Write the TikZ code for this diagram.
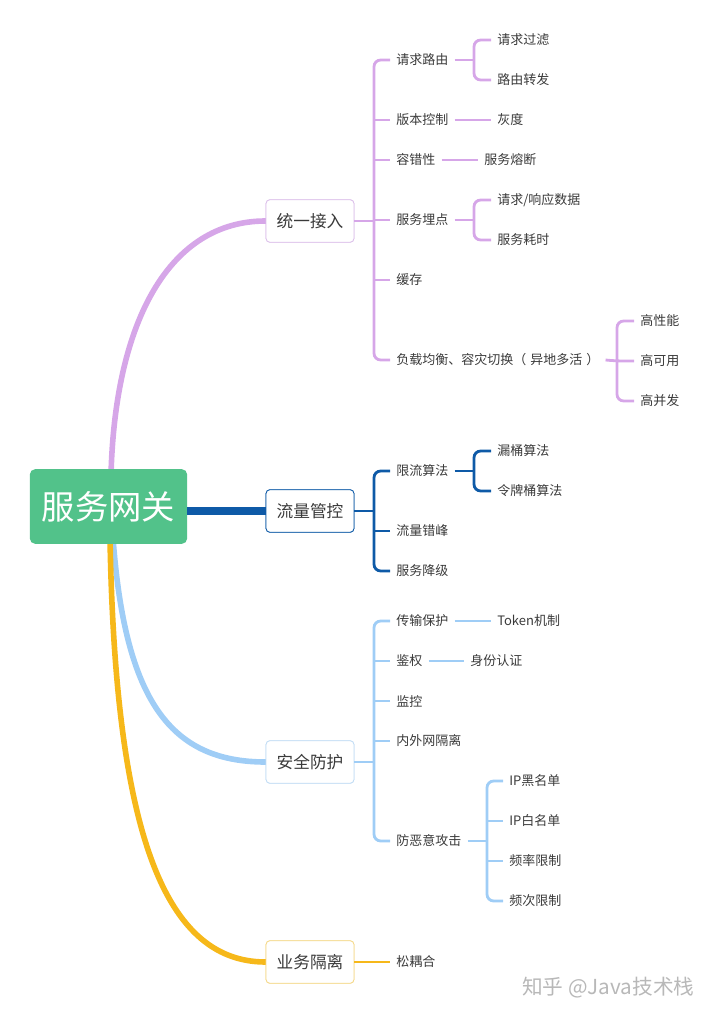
\documentclass[tikz,border=0pt]{standalone}
\usepackage{fontspec}
\setmainfont{Noto Sans CJK SC}
\definecolor{rootg}{HTML}{52C28A}
\definecolor{cpur}{HTML}{D6A6E8}
\definecolor{cpurb}{HTML}{DCC0EA}
\definecolor{cdb}{HTML}{0E5AA7}
\definecolor{clb}{HTML}{9FCDF6}
\definecolor{clbb}{HTML}{C2DDF5}
\definecolor{cor}{HTML}{F6B81A}
\definecolor{corb}{HTML}{F5D98A}
\definecolor{txt}{HTML}{3A3A3A}
\tikzset{
  leaf/.style={anchor=west, inner xsep=4.5pt, inner ysep=2pt, text=txt, font=\fontsize{9.75}{11}\selectfont},
  mainbox/.style={draw=#1, rounded corners=3pt, fill=white, line width=0.6pt, minimum width=66pt, minimum height=32pt, text=txt, font=\fontsize{12.5}{14}\selectfont},
  br/.style={draw=#1, line width=2.1pt, rounded corners=5pt},
  trunk/.style={draw=#1, line width=4.2pt, line cap=round},
}
\begin{document}
\begin{tikzpicture}[x=0.75pt,y=-0.75pt]
\useasboundingbox (0,0) rectangle (720,1019);
% trunk start points
\coordinate (rt1) at (111,475);
\coordinate (rt3) at (113,538);
\coordinate (rt4) at (110,538);
% level-1 boxes (placed first so trunks can reach them)
\node[mainbox=cpurb] (m1) at (310,221) {统一接入};
\node[mainbox=cdb] (m2) at (310,511) {流量管控};
\node[mainbox=clbb] (m3) at (310,762) {安全防护};
\node[mainbox=corb] (m4) at (310,962) {业务隔离};
\path[trunk=cpur] (rt1) .. controls (115,320) and (170,221) .. (m1.west);
\path[trunk=clb] (rt3) .. controls (125,700) and (170,762) .. (m3.west);
\path[trunk=cor] (rt4) .. controls (115,820) and (160,962) .. (m4.west);
\node[fill=rootg, rounded corners=4pt, minimum width=118pt, minimum height=56pt, text=white, font=\fontsize{25}{28}\selectfont] (root) at (108.5,506.5) {服务网关};
\path[draw=cdb, line width=6pt] (root.east |- m2.west) -- (m2.west);
% redraw boxes on top of trunks
\node[mainbox=cpurb] at (m1) {统一接入};
\node[mainbox=cdb] at (m2) {流量管控};
\node[mainbox=clbb] at (m3) {安全防护};
\node[mainbox=corb] at (m4) {业务隔离};

% ===== 统一接入 =====
\node[leaf] (a1) at (390,60) {请求路由};
\node[leaf] (a2) at (390,120) {版本控制};
\node[leaf] (a3) at (390,160) {容错性};
\node[leaf] (a4) at (390,220) {服务埋点};
\node[leaf] (a5) at (390,280) {缓存};
\node[leaf] (a6) at (390,360) {负载均衡、容灾切换（\hspace{3pt}异地多活\hspace{3pt}）};
\coordinate (b1) at (374,221);
\draw[br=cpur] (a1.west) -| (b1) |- (a6.west);
\draw[br=cpur] (m1.east) -- (b1);
\foreach \k in {a2,a3,a4,a5} \draw[br=cpur] (\k.west) -- (\k.west -| b1);

\node[leaf] (a11) at (491,40) {请求过滤};
\node[leaf] (a12) at (491,80) {路由转发};
\coordinate (b11) at (474,60);
\draw[br=cpur] (a11.west) -| (b11) |- (a12.west);
\draw[br=cpur] (a1.east) -- (b11);

\node[leaf] (a21) at (491,120) {灰度};
\draw[br=cpur] (a2.east) -- (a21.west);
\node[leaf] (a31) at (478,160) {服务熔断};
\draw[br=cpur] (a3.east) -- (a31.west);

\node[leaf] (a41) at (491,200) {请求/响应数据};
\node[leaf] (a42) at (491,240) {服务耗时};
\coordinate (b41) at (474,220);
\draw[br=cpur] (a41.west) -| (b41) |- (a42.west);
\draw[br=cpur] (a4.east) -- (b41);

\node[leaf] (a61) at (634,321) {高性能};
\node[leaf] (a62) at (634,361) {高可用};
\node[leaf] (a63) at (634,401) {高并发};
\coordinate (b61) at (617,361);
\draw[br=cpur] (a61.west) -| (b61) |- (a63.west);
\draw[br=cpur] (a6.east) -- (b61) -- (a62.west);

% ===== 流量管控 =====
\node[leaf] (f1) at (390,471) {限流算法};
\node[leaf] (f2) at (390,531) {流量错峰};
\node[leaf] (f3) at (390,571) {服务降级};
\coordinate (b2) at (374,511);
\draw[br=cdb] (f1.west) -| (b2) |- (f3.west);
\draw[br=cdb] (m2.east) -- (b2);
\draw[br=cdb] (f2.west) -- (f2.west -| b2);
\node[leaf] (f11) at (491,451) {漏桶算法};
\node[leaf] (f12) at (491,491) {令牌桶算法};
\coordinate (b21) at (474,471);
\draw[br=cdb] (f11.west) -| (b21) |- (f12.west);
\draw[br=cdb] (f1.east) -- (b21);

% ===== 安全防护 =====
\node[leaf] (s1) at (390,621) {传输保护};
\node[leaf] (s2) at (390,661) {鉴权};
\node[leaf] (s3) at (390,701) {监控};
\node[leaf] (s4) at (390,741) {内外网隔离};
\node[leaf] (s5) at (390,841) {防恶意攻击};
\coordinate (b3) at (374,762);
\draw[br=clb] (s1.west) -| (b3) |- (s5.west);
\draw[br=clb] (m3.east) -- (b3);
\foreach \k in {s2,s3,s4} \draw[br=clb] (\k.west) -- (\k.west -| b3);
\node[leaf] (s11) at (491,621) {Token机制};
\draw[br=clb] (s1.east) -- (s11.west);
\node[leaf] (s21) at (464,661) {身份认证};
\draw[br=clb] (s2.east) -- (s21.west);
\node[leaf] (s51) at (503,781) {IP黑名单};
\node[leaf] (s52) at (503,821) {IP白名单};
\node[leaf] (s53) at (503,861) {频率限制};
\node[leaf] (s54) at (503,901) {频次限制};
\coordinate (b51) at (487,841);
\draw[br=clb] (s51.west) -| (b51) |- (s54.west);
\draw[br=clb] (s5.east) -- (b51);
\foreach \k in {s52,s53} \draw[br=clb] (\k.west) -- (\k.west -| b51);

% ===== 业务隔离 =====
\node[leaf] (y1) at (390,962) {松耦合};
\draw[br=cor] (m4.east) -- (y1.west);

% watermark
\node[anchor=west, inner sep=0, text=black!28, font=\fontsize{15.5}{17}\selectfont] (wm) at (522,988) {知乎 @Java技术栈};
\end{tikzpicture}
\end{document}
